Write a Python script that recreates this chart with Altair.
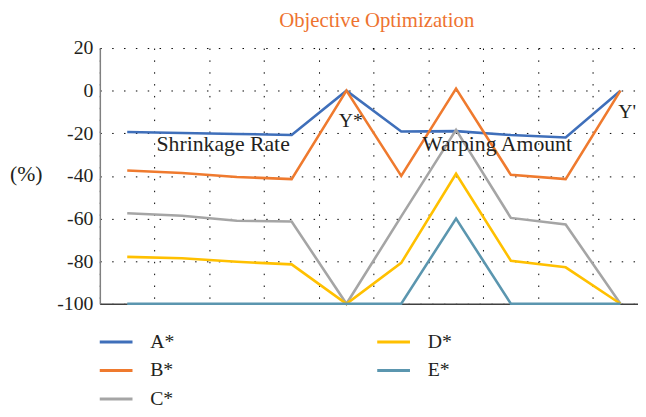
import altair as alt
import pandas as pd

# ---- data ----
categories = ["S1", "S2", "S3", "S4", "Y*", "W1", "W2", "W3", "W4", "Y'"]
series_names = ["A*", "B*", "C*", "D*", "E*"]
a_vals = [-19.4, -19.9, -20.3, -20.8, 0, -19.2, -19.0, -20.8, -22.0, 0]
b_vals = [-37.5, -38.6, -40.5, -41.5, 0, -40.0, 1.0, -39.5, -41.5, 0]
c_vals = [-57.5, -58.7, -61.0, -61.4, -100, -59.0, -18.4, -59.7, -62.8, -100]
d_vals = [-78.0, -78.6, -80.3, -81.5, -100, -80.8, -39.0, -79.8, -82.9, -100]
e_vals = [-100, -100, -100, -100, -100, -100, -60, -100, -100, -100]
y_ticks = [-100, -80, -60, -40, -20, 0, 20]

ann_text = ["Shrinkage Rate", "Warping Amount", "Y*", "Y'"]
ann_x = [2.25, 7.25, 4.58, 9.62]
ann_y = [-25.3, -25.3, -14.2, -10.0]
ann_size = [22, 22, 20, 20]

color_map = {"A*": "#3F6FBA", "B*": "#EF7A2E", "C*": "#A5A5A5",
             "D*": "#FFC000", "E*": "#5B96AF"}

rows = []
for name, vals in zip(series_names, [a_vals, b_vals, c_vals, d_vals, e_vals]):
    for i, (c, v) in enumerate(zip(categories, vals)):
        rows.append({"series": name, "cat": c, "pos": i + 0.5, "value": v})
df = pd.DataFrame(rows)
ann = pd.DataFrame({"text": ann_text, "x": ann_x, "y": ann_y, "size": ann_size})

FONT = "Liberation Serif"
TXT = "#231f20"

xscale = alt.Scale(domain=[0, 9.82], nice=False, zero=False)
yscale = alt.Scale(domain=[-100, 20], nice=False, zero=False)

xaxis = alt.Axis(values=list(range(10)), labels=False, ticks=False, title=None,
                 grid=True, gridDash=[1.5, 10.5], gridColor="#000000", gridWidth=1,
                 domainColor="#404040", domainWidth=1.5)
yaxis = alt.Axis(values=y_ticks, ticks=False, grid=True, gridDash=[1.5, 10.5],
                 gridColor="#000000", gridWidth=1, domainColor="#808080",
                 domainWidth=1.5, labelFont=FONT, labelFontSize=20,
                 labelExpr="toString(datum.value)",
                 labelColor=TXT, labelPadding=7, title="(%)",
                 titleAngle=0, titleX=-75, titleY=127, titleAlign="center",
                 titleBaseline="middle", titleFont=FONT, titleFontSize=22,
                 titleFontWeight="normal", titleColor=TXT)

lines = alt.Chart(df).mark_line(strokeWidth=2.6).encode(
    x=alt.X("pos:Q", scale=xscale, axis=xaxis),
    y=alt.Y("value:Q", scale=yscale, axis=yaxis),
    color=alt.Color("series:N",
                    scale=alt.Scale(domain=series_names,
                                    range=[color_map[s] for s in series_names]),
                    legend=alt.Legend(orient="none", legendX=-2, legendY=279,
                                      columns=2, columnPadding=198, rowPadding=0,
                                      symbolType="stroke", symbolSize=1100,
                                      symbolStrokeWidth=3, labelFont=FONT,
                                      labelFontSize=20, labelColor=TXT,
                                      labelOffset=16, title=None, padding=0)),
    order=alt.Order("pos:Q"),
)

texts = alt.Chart(ann).mark_text(font=FONT, color=TXT).encode(
    x=alt.X("x:Q", scale=xscale),
    y=alt.Y("y:Q", scale=yscale),
    text="text:N",
    size=alt.Size("size:Q", scale=None, legend=None),
)

chart = alt.layer(lines, texts).properties(
    width=545, height=259,
    autosize=alt.AutoSizeParams(type="none"),
    padding={"left": 93, "top": 38, "right": 0, "bottom": 104},
    title=alt.TitleParams("Objective Optimization", font=FONT, fontSize=21,
                          color="#EE7330", fontWeight="normal", anchor="middle",
                          offset=7, dx=8),
).configure_view(stroke=None)

chart.save("out.html", embed_options={"renderer": "svg", "actions": False})
